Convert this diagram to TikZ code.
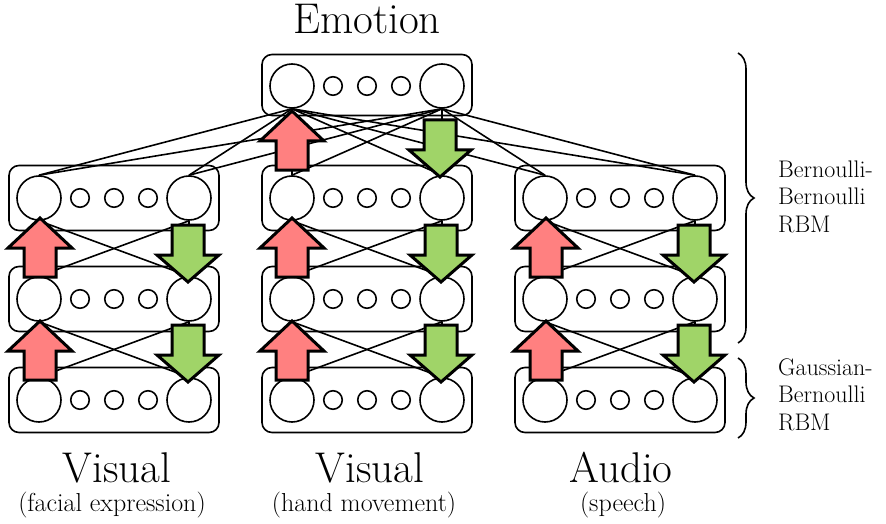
\documentclass[tikz,border=0pt]{standalone}
\usepackage{fontspec}
\usetikzlibrary{decorations.pathreplacing}

\definecolor{upred}{HTML}{FF8080}
\definecolor{downgreen}{HTML}{A0D468}

\tikzset{
  unit/.style={circle,draw,line width=1.6pt,inner sep=0pt,minimum size=44pt},
  subunit/.style={circle,draw,line width=1.6pt,inner sep=0pt,minimum size=18.5pt},
  layer/.style={rectangle,draw,rounded corners=10pt,line width=1.6pt,
    minimum width=210pt,minimum height=65pt},
  link/.style={line width=1.6pt},
  arrowline/.style={draw,line width=3pt,line join=miter},
  rbmbrace/.style={decorate,decoration={brace,amplitude=16pt},line width=1.6pt},
  bigtext/.style={inner sep=0pt,font=\fontsize{43}{43}\selectfont\addfontfeatures{LetterSpace=3.5}},
  subtext/.style={font=\fontsize{26}{28}\selectfont\addfontfeatures{LetterSpace=4}},
  sidetext/.style={font=\fontsize{24}{27.5}\selectfont\addfontfeatures{LetterSpace=4}},
}

% up arrow, #1 = x, #2 = y of shaft bottom
\newcommand{\redarrow}[2]{%
  \path[arrowline,fill=upred] (#1,#2) ++(-16,0) -- ++(0,-29) -- ++(-16,0)
    -- ++(32,-30) -- ++(32,30) -- ++(-16,0) -- ++(0,29) -- cycle;}
% down arrow, #1 = x, #2 = y of tip
\newcommand{\greenarrow}[2]{%
  \path[arrowline,fill=downgreen] (#1,#2) -- ++(31,-27) -- ++(-15,0)
    -- ++(0,-30) -- ++(-32,0) -- ++(0,30) -- ++(-15,0) -- cycle;}

\begin{document}
\begin{tikzpicture}[x=1pt,y=-1pt]
  \useasboundingbox (0,0) rectangle (886,524);

  % emotion layer
  \node[layer,minimum height=61pt] (emo) at (367,85) {};
  \node[unit] (emoL) at (292,86) {};
  \node[unit] (emoR) at (442,86) {};
  \foreach \i/\x in {1/333,2/367,3/401}
    \node[subunit] (emo\i) at (\x,86) {};

  % modality stacks
  \foreach \col/\x in {a/114,b/367,c/620}
    \foreach \row/\y in {1/198,2/299,3/400} {
      \node[layer] (box\col\row) at (\x,\y) {};
      \node[unit] (L\col\row) at (\x-75,\y) {};
      \node[unit] (R\col\row) at (\x+75,\y) {};
      \node[subunit] (s\col\row a) at (\x-34,\y) {};
      \node[subunit] (s\col\row b) at (\x,\y) {};
      \node[subunit] (s\col\row c) at (\x+34,\y) {};
    }

  % connections
  \foreach \col in {a,b,c}
    \foreach \row/\nxt in {1/2,2/3} {
      \draw[link] (L\col\row.south) -- (L\col\nxt.north);
      \draw[link] (L\col\row.south) -- (R\col\nxt.north);
      \draw[link] (R\col\row.south) -- (L\col\nxt.north);
      \draw[link] (R\col\row.south) -- (R\col\nxt.north);
    }
  \foreach \top in {emoL,emoR}
    \foreach \col in {a,b,c} {
      \draw[link] (\top.south) -- (L\col1.north);
      \draw[link] (\top.south) -- (R\col1.north);
    }

  % up / down passes
  \foreach \x in {40,292,546} {\redarrow{\x}{277} \redarrow{\x}{380}}
  \foreach \x in {188,441,694} {\greenarrow{\x}{282} \greenarrow{\x}{382}}
  \redarrow{292}{170}
  \greenarrow{440}{177}

  % labels
  \node[bigtext,anchor=base] (title) at (367,34) {Emotion};
  \node[bigtext,anchor=base] (visA) at (117,482) {Visual};
  \node[bigtext,anchor=base] (visB) at (370,482) {Visual};
  \node[bigtext,anchor=base] (aud) at (621,482) {Audio};
  \node[subtext,anchor=base] (subA) at (112,511) {(facial expression)};
  \node[subtext,anchor=base] (subB) at (364,511) {(hand movement)};
  \node[subtext,anchor=base] (subC) at (623,511) {(speech)};

  \draw[rbmbrace] (738,53) -- (738,343);
  \draw[rbmbrace] (738,358) -- (738,438);
  \node[sidetext,anchor=base west,align=left,inner sep=0pt] (bb) at (778,232)
    {Bernoulli-\\Bernoulli\\RBM};
  \node[sidetext,anchor=base west,align=left,inner sep=0pt] (gb) at (778,430)
    {Gaussian-\\Bernoulli\\RBM};
\end{tikzpicture}
\end{document}
